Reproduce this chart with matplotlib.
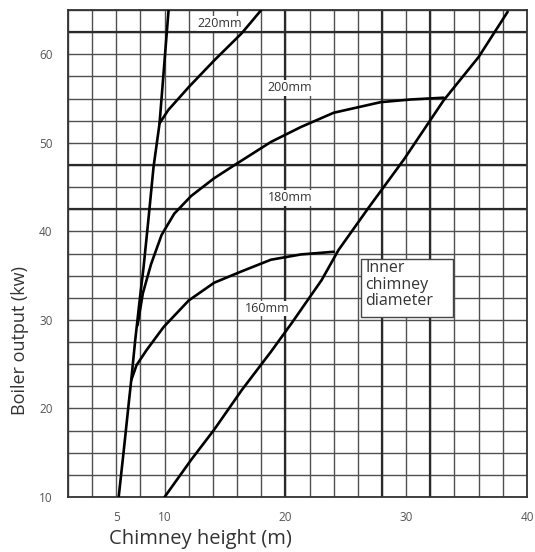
import numpy as np
import matplotlib
matplotlib.use("Agg")
import matplotlib.pyplot as plt
from matplotlib.patches import Rectangle

plt.rcParams["font.family"] = ["Open Sans", "DejaVu Sans"]

# curves (chimney height m, boiler output kW)
steep_x = [5.25, 5.78, 6.33, 6.55, 6.96, 7.42, 7.83, 8.35, 8.86, 9.48, 10.33]
steep_y = [10.0, 15.3, 21.0, 23.2, 27.7, 32.2, 36.0, 41.6, 47.3, 52.2, 65.0]

d220_x = [9.48, 10.3, 12.0, 14.1, 16.4, 18.0]
d220_y = [52.2, 53.7, 56.3, 59.3, 62.4, 65.0]

d200_x = [7.2, 7.75, 8.6, 9.69, 10.8, 12.2, 14.1, 15.8, 18.8, 21.3, 24.0, 27.9, 30.4, 33.1]
d200_y = [29.4, 33.0, 36.3, 39.6, 42.0, 44.0, 46.0, 47.5, 50.1, 51.8, 53.4, 54.6, 54.9, 55.1]

d160_x = [6.55, 7.1, 8.14, 9.9, 12.0, 14.1, 16.4, 18.8, 21.3, 24.0]
d160_y = [23.2, 24.9, 26.6, 29.2, 32.2, 34.2, 35.5, 36.8, 37.4, 37.7]

limit_x = [10.0, 12.2, 14.1, 16.4, 18.8, 20.5, 23.0, 24.4, 26.9, 29.8, 33.1, 36.0, 38.4]
limit_y = [10.0, 14.2, 17.6, 22.1, 26.4, 29.6, 34.5, 37.9, 42.7, 48.1, 54.8, 59.7, 64.8]

curve_labels = ["220mm", "200mm", "180mm", "160mm"]
label_x = [14.6, 20.4, 20.4, 18.5]
label_y = [63.5, 56.2, 43.8, 31.3]

x_ticks = [5, 10, 20, 30, 40]
y_ticks = [10, 20, 30, 40, 50, 60]
x_grid = [0, 2.5, 5, 7.5] + list(range(10, 41, 2))
y_grid = list(np.arange(10, 65.1, 2.5))
thick_x = [20, 28, 32]
thick_y = [42.5, 47.5, 62.5]


# the chart's x axis is squeezed below 10 m (2.5 m per cell, 2 m above)
def fwd(x):
    x = np.asarray(x, dtype=float)
    return np.where(x <= 10, (x - 10) / 2.5, (x - 10) / 2.0)


def inv(i):
    i = np.asarray(i, dtype=float)
    return np.where(i <= 0, 10 + 2.5 * i, 10 + 2.0 * i)


fig = plt.figure(figsize=(5.35, 5.52), dpi=100)
ax = fig.add_axes([0.127, 0.0996, 0.858, 0.8822])
ax.set_xscale("function", functions=(fwd, inv))
ax.set_xlim(0, 40)
ax.set_ylim(10, 65)

ax.set_xticks(x_ticks)
ax.set_xticklabels([str(v) for v in x_ticks])
ax.set_yticks(y_ticks)
ax.set_yticklabels([str(v) for v in y_ticks])
ax.set_xticks(x_grid, minor=True)
ax.set_yticks(y_grid, minor=True)
ax.xaxis.remove_overlapping_locs = False
ax.yaxis.remove_overlapping_locs = False
ax.tick_params(which="both", length=0)
ax.tick_params(axis="x", pad=10, labelsize=8.5, labelcolor="#555555")
ax.tick_params(axis="y", pad=11, labelsize=8.5, labelcolor="#555555")
ax.grid(which="minor", color="#505050", lw=1.0)

for v in thick_x:
    ax.axvline(v, color="#2a2a2a", lw=1.6, zorder=1.6)
for v in thick_y:
    ax.axhline(v, color="#2a2a2a", lw=1.6, zorder=1.6)

for sp in ax.spines.values():
    sp.set_color("#333333")
    sp.set_linewidth(1.3)

for xs, ys in [(steep_x, steep_y), (d220_x, d220_y), (d200_x, d200_y),
               (d160_x, d160_y), (limit_x, limit_y)]:
    ax.plot(xs, ys, color="black", lw=1.9, zorder=3, solid_capstyle="round")

for txt, tx, ty in zip(curve_labels, label_x, label_y):
    ax.text(tx, ty, txt, fontsize=9, color="#333333", ha="center", va="center",
            zorder=2.5, bbox=dict(boxstyle="square,pad=0.1", fc="white", ec="none"))

# legend box
ax.add_patch(Rectangle((26.3, 30.3), 33.9 - 26.3, 36.9 - 30.3, fc="white",
                       ec="#444444", lw=1.0, zorder=2.4))
ax.text(26.6, 36.75, "Inner\nchimney\ndiameter", fontsize=11.5, color="#333333",
        ha="left", va="top", linespacing=1.05, zorder=2.5)

ax.set_xlabel("Chimney height (m)", fontsize=14.5, color="#333333", va="center")
ax.xaxis.set_label_coords(0.288, -0.086)
ax.set_ylabel("Boiler output (kw)", fontsize=13, color="#333333", va="center")
ax.yaxis.set_label_coords(-0.105, 0.322)

fig.savefig("out.png", dpi=100)
